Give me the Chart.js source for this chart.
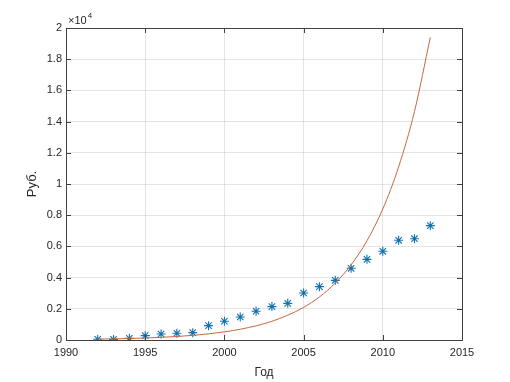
<!DOCTYPE html>
<html><head><meta charset="utf-8">
<script src="https://cdn.jsdelivr.net/npm/chart.js@4/dist/chart.umd.min.js"></script>
<style>html,body{margin:0;padding:0;background:#fff}#w{width:510px;height:382px}</style>
</head><body><div id="w"><canvas id="c" width="510" height="382"></canvas></div>
<script>
const years = [1992,1993,1994,1995,1996,1997,1998,1999,2000,2001,2002,2003,2004,2005,2006,2007,2008,2009,2010,2011,2012,2013];
const actual = [50,40,110,280,385,430,470,920,1200,1475,1840,2140,2350,3010,3420,3825,4595,5170,5685,6390,6495,7330];
const fitted = [56,74,98,129,170,225,297,392,520,690,910,1200,1590,2090,2760,3650,4820,6360,8400,11100,14650,19400];
const xTicks = [1990,1995,2000,2005,2010,2015];
const yTicks = [0,2000,4000,6000,8000,10000,12000,14000,16000,18000,20000];
const yLabels = ['0','0.2','0.4','0.6','0.8','1','1.2','1.4','1.6','1.8','2'];
const FONT = "'Liberation Sans', Arial, Helvetica, sans-serif";
const TXT = '#262626';

const boxPlugin = {
  id: 'box',
  afterDraw(chart) {
    const {ctx, chartArea: a, scales} = chart;
    ctx.save();
    ctx.strokeStyle = '#404040';
    ctx.lineWidth = 1;
    ctx.strokeRect(Math.round(a.left)+0.5, Math.round(a.top)+0.5, Math.round(a.right-a.left), Math.round(a.bottom-a.top));
    ctx.beginPath();
    const tl = 5;
    xTicks.forEach(v => {
      const x = Math.round(scales.x.getPixelForValue(v)) + 0.5;
      ctx.moveTo(x, a.bottom); ctx.lineTo(x, a.bottom - tl);
      ctx.moveTo(x, a.top); ctx.lineTo(x, a.top + tl);
    });
    yTicks.forEach(v => {
      const y = Math.round(scales.y.getPixelForValue(v)) + 0.5;
      ctx.moveTo(a.left, y); ctx.lineTo(a.left + tl, y);
      ctx.moveTo(a.right, y); ctx.lineTo(a.right - tl, y);
    });
    ctx.stroke();
    ctx.fillStyle = TXT;
    ctx.textBaseline = 'alphabetic';
    ctx.font = '11px ' + FONT;
    ctx.fillText('\u00d710', a.left + 2, a.top - 4);
    const w = ctx.measureText('\u00d710').width;
    ctx.font = '8px ' + FONT;
    ctx.fillText('4', a.left + 2 + w + 1, a.top - 10);
    ctx.restore();
  }
};

new Chart(document.getElementById('c'), {
  type: 'scatter',
  data: {
    datasets: [
      {
        type: 'line',
        data: years.map((y,i) => ({x: y, y: fitted[i]})),
        borderColor: '#C8663F',
        borderWidth: 1,
        pointRadius: 0,
        tension: 0.4,
        cubicInterpolationMode: 'monotone',
        fill: false
      },
      {
        type: 'scatter',
        data: years.map((y,i) => ({x: y, y: actual[i]})),
        pointStyle: 'star',
        pointRadius: 4.5,
        borderColor: '#1272B0',
        backgroundColor: '#1272B0',
        borderWidth: 1.1
      }
    ]
  },
  options: {
    responsive: false,
    animation: false,
    layout: {padding: {left: 0, top: 28, right: 48, bottom: 0}},
    plugins: {legend: {display: false}, tooltip: {enabled: false}},
    scales: {
      x: {
        type: 'linear', min: 1990, max: 2015,
        afterBuildTicks(s) { s.ticks = xTicks.map(v => ({value: v})); },
        afterFit(s) { s.height = 42; },
        ticks: {callback: v => String(v), color: TXT, font: {family: FONT, size: 11}, padding: 6, maxRotation: 0},
        grid: {color: 'rgba(38,38,38,0.12)', drawTicks: false},
        border: {display: false},
        title: {display: true, text: 'Год', color: TXT, font: {family: FONT, size: 12}, padding: {top: 0, bottom: 2}}
      },
      y: {
        type: 'linear', min: 0, max: 20000,
        afterBuildTicks(s) { s.ticks = yTicks.map(v => ({value: v})); },
        afterFit(s) { s.width = 66; },
        ticks: {callback: (v) => yLabels[yTicks.indexOf(v)], color: TXT, font: {family: FONT, size: 11}, padding: 4},
        grid: {color: 'rgba(38,38,38,0.12)', drawTicks: false},
        border: {display: false},
        title: {display: true, text: 'Руб.', color: TXT, font: {family: FONT, size: 13}, padding: {top: 25, bottom: 0}}
      }
    }
  },
  plugins: [boxPlugin]
});
</script>
</body></html>
